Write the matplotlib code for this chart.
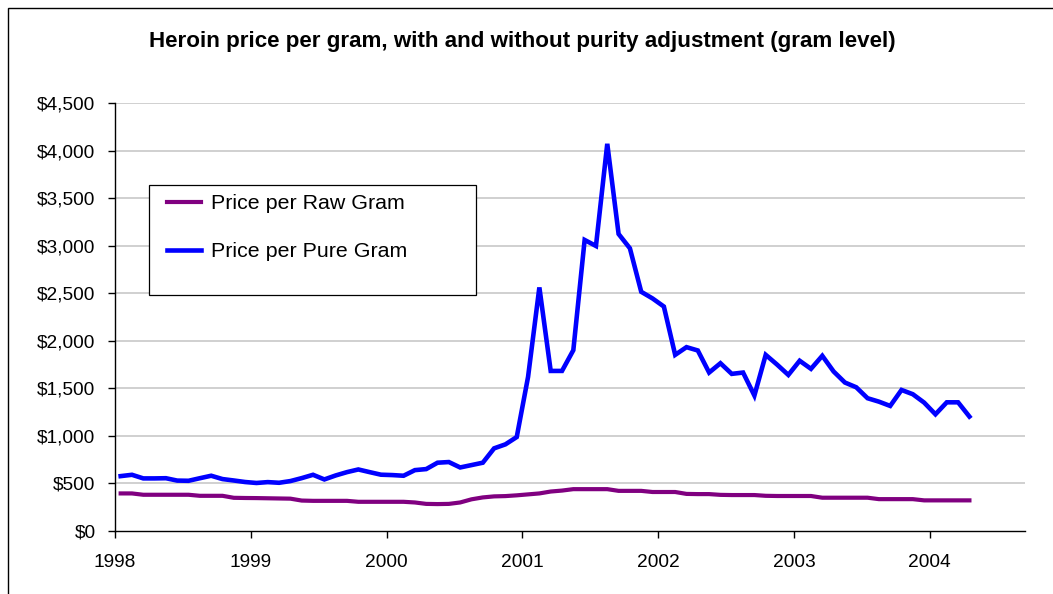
import matplotlib
matplotlib.use("Agg")
import matplotlib.pyplot as plt
from matplotlib.patches import Rectangle
from matplotlib.ticker import FuncFormatter, MultipleLocator
import numpy as np

plt.rcParams['font.family'] = ['Liberation Sans', 'DejaVu Sans']

# Monthly series, Jan 1998 .. Apr 2004
start_year = 1998
n_months = 76
pure_gram = [577, 591, 553, 553, 555, 530, 528, 555, 581, 546, 531, 515,
             505, 514, 507, 525, 556, 591, 542, 584, 619, 647, 619, 592,
             588, 581, 640, 651, 718, 725, 668, 693, 718, 869, 911, 988,
             1620, 2561, 1683, 1683, 1901, 3060, 2997, 4071, 3123, 2972, 2515, 2445,
             2360, 1852, 1933, 1898, 1666, 1764, 1652, 1666, 1424, 1852, 1750, 1641,
             1790, 1705, 1842, 1677, 1561, 1511, 1396, 1360, 1315, 1483, 1438, 1350,
             1227, 1353, 1353, 1203]
raw_gram = [395, 395, 381, 381, 381, 381, 381, 370, 370, 370, 349, 347,
            346, 344, 342, 340, 320, 317, 317, 317, 317, 307, 307, 307,
            307, 307, 300, 285, 283, 285, 300, 333, 353, 364, 367, 375,
            385, 395, 415, 425, 440, 440, 440, 440, 422, 422, 422, 410,
            410, 410, 390, 388, 388, 380, 378, 378, 378, 370, 368, 368,
            368, 368, 350, 350, 350, 350, 350, 335, 335, 335, 335, 322,
            322, 322, 322, 322]
series_labels = ["Price per Raw Gram", "Price per Pure Gram"]
year_ticks = [1998, 1999, 2000, 2001, 2002, 2003, 2004]
title = "Heroin price per gram, with and without purity adjustment (gram level)"

dates = start_year + (np.arange(n_months) + 0.5) / 12.0

W, H = 1053, 594
fig = plt.figure(figsize=(W / 100, H / 100), dpi=100)
fig.patch.set_facecolor('white')

ax = fig.add_axes([115 / W, 1 - 531 / H, (1025 - 115) / W, (531 - 103) / H])
ax.set_xlim(1998, 1998 + (1025 - 115) / 135.8)
ax.set_ylim(0, 4500)

ax.yaxis.set_major_locator(MultipleLocator(500))
ax.set_xticks(year_ticks)
ax.set_xticklabels([str(y) for y in year_ticks])
ax.yaxis.set_major_formatter(FuncFormatter(lambda v, p: "${:,.0f}".format(v)))

for yv in np.arange(500, 4501, 500):
    ax.axhline(yv, color='#c8c8c8', linewidth=1.2, zorder=0)

l1, = ax.plot(dates, raw_gram, color='#800080', linewidth=3.0, solid_joinstyle='miter', zorder=3)
l2, = ax.plot(dates, pure_gram, color='#0000ff', linewidth=3.3, solid_joinstyle='miter', zorder=4)

for s in ['top', 'right']:
    ax.spines[s].set_visible(False)
for s in ['left', 'bottom']:
    ax.spines[s].set_color('black')
    ax.spines[s].set_linewidth(1.0)

ax.tick_params(axis='both', direction='out', length=5, width=1.0, colors='black', labelsize=13.8)
ax.tick_params(axis='y', pad=9)
ax.tick_params(axis='x', pad=11.5)

# Title
fig.text(522 / W, 1 - 42 / H, title, ha='center', va='center', fontsize=16.1, fontweight='bold')

# Legend
fig.patches.append(Rectangle((149 / W, 1 - 295 / H), (476 - 149) / W, (295 - 185) / H,
                             transform=fig.transFigure, facecolor='white', edgecolor='black',
                             linewidth=0.9, zorder=5))
leg = fig.legend([l1, l2], series_labels, loc='upper left',
                 bbox_to_anchor=(148.5 / W, 1 - 176 / H), bbox_transform=fig.transFigure,
                 frameon=False, fontsize=15.4, handlelength=1.6, handletextpad=0.47,
                 labelspacing=1.35, borderpad=0.35)
leg.set_zorder(6)

# Outer chart border
fig.patches.append(Rectangle((8 / W, -0.1), 1.2, 1 - 8 / H + 0.1,
                             transform=fig.transFigure, facecolor='none', edgecolor='black',
                             linewidth=1.0, zorder=10))

fig.savefig("out.png", dpi=100, facecolor='white')
